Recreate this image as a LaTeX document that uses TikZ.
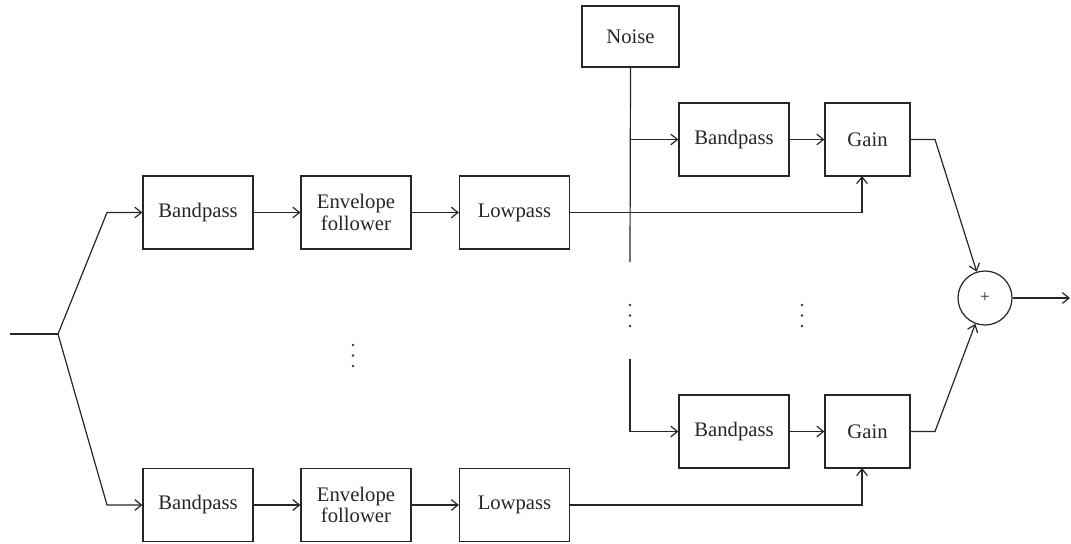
\documentclass[tikz,border=0pt]{standalone}
\usepackage{fontspec}
\setmainfont{Liberation Serif}
\usetikzlibrary{arrows.meta,calc}
\begin{document}
\begin{tikzpicture}[x=0.75pt,y=-0.75pt, line width=0.9pt, color=black!85,
  blk/.style={draw, rectangle, inner sep=0pt, minimum width=82.5pt, minimum height=54.75pt, align=center, font=\fontsize{15.5}{18}\selectfont},
  gainbox/.style={blk, minimum width=63.75pt},
  noisebox/.style={blk, minimum width=72.75pt, minimum height=45.75pt},
  sumnode/.style={draw, circle, inner sep=0pt, minimum size=40.5pt, font=\fontsize{13}{15}\selectfont},
  arr/.style={-{Straight Barb[length=5pt,width=8pt]}},
  dot/.style={fill=black!80, draw=none}
]
\useasboundingbox (0,0) rectangle (1071,543);

% nodes
\node[blk] (bp1) at (198,212.5) {Bandpass};
\node[blk] (env1) at (356,212.5) {Envelope\\[-2pt]follower};
\node[blk] (lp1) at (514.5,212.5) {Lowpass};
\node[blk] (bp2) at (198,505) {Bandpass};
\node[blk] (env2) at (356,505) {Envelope\\[-2pt]follower};
\node[blk] (lp2) at (514.5,505) {Lowpass};
\node[noisebox] (noise) at (630.5,36.5) {Noise};
\node[blk] (bpA) at (734,139.5) {Bandpass};
\node[gainbox] (gA) at (867.5,139.5) {Gain};
\node[blk] (bpB) at (734,431.5) {Bandpass};
\node[gainbox] (gB) at (867.5,431.5) {Gain};
\node[sumnode] (sum) at (985,298) {+};

% coordinates
\coordinate (in) at (10,334);
\coordinate (split) at (58,334);
\coordinate (cu) at (107,212.5);
\coordinate (cd) at (107,505);
\coordinate (nt) at (630,262);
\coordinate (nb) at (630,359);
\coordinate (gAin) at (862,176);
\coordinate (gBin) at (862,468);
\coordinate (ca) at (935,139.5);
\coordinate (cb) at (935,431.5);
\coordinate (out) at (1070,298);

% input split
\draw (in) -- (split);
\draw[arr] (split) -- (cu) -- (bp1.west);
\draw[arr] (split) -- (cd) -- (bp2.west);

% chains
\draw[arr] (bp1) -- (env1);
\draw[arr] (env1) -- (lp1);
\draw[arr] (bp2) -- (env2);
\draw[arr] (env2) -- (lp2);

% lowpass to gains
\draw[arr] (lp1.east) -- (gAin |- lp1.east) -- (gAin);
\draw[arr] (lp2.east) -- (gBin |- lp2.east) -- (gBin);

% noise
\draw (noise.south) -- (nt);
\draw[arr] (nb) -- (nb |- bpB.west) -- (bpB.west);
\draw[arr] (noise.south |- bpA.west) -- (bpA.west);

% bandpass to gain
\draw[arr] (bpA) -- (gA);
\draw[arr] (bpB) -- (gB);

% gains to sum
\draw[arr] (gA.east) -- (ca) -- (sum);
\draw[arr] (gB.east) -- (cb) -- (sum);
\draw[arr] (sum.east) -- (out);

% dots
\foreach \x/\y in {353/345, 353/355.5, 353/366, 630/305, 630/315.5, 630/326, 802/305, 802/315.5, 802/326}
  \fill[dot] (\x,\y) circle (1.1pt);
\end{tikzpicture}
\end{document}
